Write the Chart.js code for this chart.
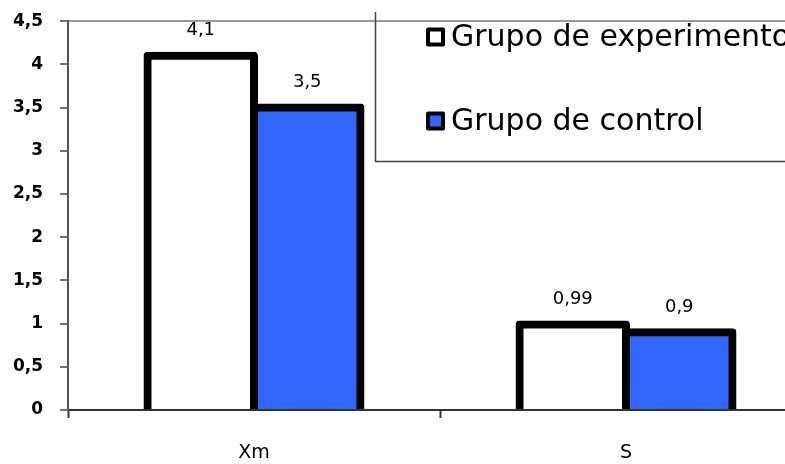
<!DOCTYPE html>
<html>
<head>
<meta charset="utf-8">
<title>Xm y S por grupo</title>
<script src="https://cdn.jsdelivr.net/npm/chart.js@4/dist/chart.umd.min.js"></script>
<style>
  html, body { margin: 0; padding: 0; background: #ffffff; overflow: hidden; }
  #wrap { position: relative; width: 785px; height: 464px; overflow: hidden; }
  #chart { position: absolute; left: 0; top: -6px; display: block; }
</style>
</head>
<body>
<div id="wrap"><canvas id="chart" width="812" height="470"></canvas></div>
<script>
// Categories and values of both groups
const categories = ['Xm', 'S'];
const seriesNames = ['Grupo de experimento', 'Grupo de control'];
const experimentValues = [4.1, 0.99];
const controlValues = [3.5, 0.9];
const yTickValues = [0, 0.5, 1, 1.5, 2, 2.5, 3, 3.5, 4, 4.5];

const FONT = '"DejaVu Sans", "Liberation Sans", Arial, sans-serif';
const BLUE = '#3366FF';
const SHIFT = 6; // canvas sits 6px above the page top

// Decimal comma for every number shown
const fmt = v => String(v).replace('.', ',');

// Value labels above each bar
const valueLabels = {
  id: 'valueLabels',
  afterDatasetsDraw(chart) {
    const ctx = chart.ctx;
    ctx.save();
    ctx.font = '18px ' + FONT;
    ctx.fillStyle = '#000';
    ctx.textAlign = 'center';
    ctx.textBaseline = 'middle';
    chart.data.datasets.forEach((ds, di) => {
      const meta = chart.getDatasetMeta(di);
      meta.data.forEach((bar, i) => {
        ctx.fillText(fmt(ds.data[i]), bar.x, bar.y - 25);
      });
    });
    ctx.restore();
  }
};

// Boxed legend in the upper right corner
const boxLegend = {
  id: 'boxLegend',
  afterDraw(chart) {
    const ctx = chart.ctx;
    ctx.save();
    ctx.translate(0, SHIFT);
    ctx.strokeStyle = '#444';
    ctx.lineWidth = 1.5;
    ctx.beginPath();
    ctx.moveTo(375.5, 12);
    ctx.lineTo(375.5, 161.5);
    ctx.lineTo(chart.width, 161.5);
    ctx.stroke();

    const rows = [37, 121];
    ctx.font = '30px ' + FONT;
    ctx.textBaseline = 'alphabetic';
    ctx.textAlign = 'left';
    chart.data.datasets.forEach((ds, i) => {
      const cy = rows[i];
      const size = 19;
      const x0 = 426, y0 = cy - size / 2;
      ctx.fillStyle = '#000';
      ctx.beginPath();
      ctx.roundRect(x0, y0, size, size, 2);
      ctx.fill();
      ctx.fillStyle = ds.backgroundColor;
      ctx.fillRect(x0 + 4, y0 + 4, size - 8, size - 8);
      ctx.fillStyle = '#000';
      ctx.fillText(ds.label, 451, cy + 9);
    });
    ctx.restore();
  }
};

// Thick outline centred on the bar edge, so neighbouring bars share one border
const barStyle = {
  borderColor: '#000000',
  borderWidth: 8,
  borderRadius: 4,
  borderSkipped: 'start',
  categoryPercentage: 0.5726,
  barPercentage: 1,
  inflateAmount: 4
};

new Chart(document.getElementById('chart'), {
  type: 'bar',
  data: {
    labels: categories,
    datasets: [
      Object.assign({ label: seriesNames[0], data: experimentValues, backgroundColor: '#FFFFFF' }, barStyle),
      Object.assign({ label: seriesNames[1], data: controlValues, backgroundColor: BLUE }, barStyle)
    ]
  },
  options: {
    responsive: false,
    devicePixelRatio: 1,
    animation: false,
    layout: { padding: { top: 0, left: 0, right: 0, bottom: 0 } },
    plugins: {
      legend: { display: false },
      tooltip: { enabled: false }
    },
    scales: {
      x: {
        z: 1,
        offset: true,
        grid: {
          offset: true,
          color: 'rgba(0,0,0,0)',
          drawTicks: true,
          tickLength: 8,
          tickColor: '#333',
          tickWidth: 2
        },
        border: { display: true, color: '#333', width: 2 },
        ticks: {
          color: '#000',
          padding: 24,
          font: { family: FONT, size: 19 }
        },
        afterFit(scale) { scale.height = 54; }
      },
      y: {
        min: 0,
        max: 4.5,
        afterBuildTicks(scale) {
          scale.ticks = yTickValues.map(v => ({ value: v }));
        },
        grid: {
          color: c => (c.tick && c.tick.value === 4.5) ? '#999' : 'rgba(0,0,0,0)',
          lineWidth: 2,
          drawTicks: true,
          tickLength: 8,
          tickColor: '#444',
          tickWidth: 1.5
        },
        border: { display: true, color: '#555', width: 2 },
        ticks: {
          color: '#000',
          padding: 17,
          font: { family: FONT, size: 17, weight: 'bold' },
          callback: v => fmt(v)
        },
        afterFit(scale) { scale.width = 68; }
      }
    }
  },
  plugins: [valueLabels, boxLegend]
});
</script>
</body>
</html>
